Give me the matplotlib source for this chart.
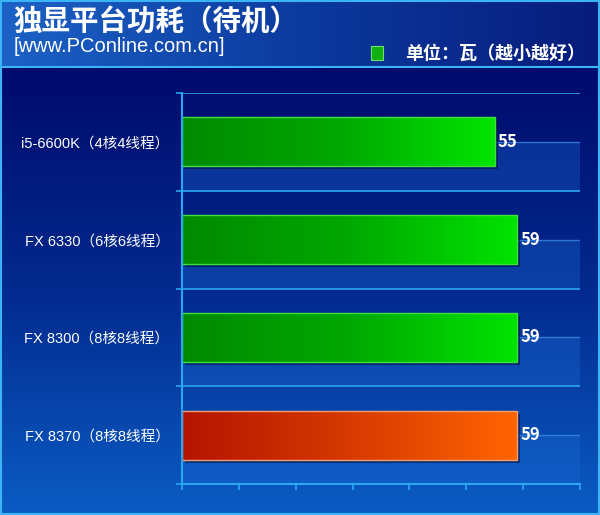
import numpy as np
import matplotlib
matplotlib.use("Agg")
import matplotlib.pyplot as plt
from matplotlib.colors import LinearSegmentedColormap
import matplotlib.transforms as mtransforms

plt.rcParams['font.family'] = ['Noto Sans CJK SC', 'DejaVu Sans']
latin_cjk = ['Liberation Sans', 'Noto Sans CJK SC']

# 数据
cpus = ["i5-6600K（4核4线程）", "FX 6330（6核6线程）", "FX 8300（8核8线程）", "FX 8370（8核8线程）"]
watts = [55, 59, 59, 59]
highlight = [False, False, False, True]
title = "独显平台功耗（待机）"
site = "[www.PConline.com.cn]"
unit_label = "单位：瓦（越小越好）"
x_max = 70
x_step = 10

W, H = 600, 515
fig = plt.figure(figsize=(W / 100, H / 100), dpi=100)

# 背景（像素坐标）
bg = fig.add_axes([0, 0, 1, 1])
bg.set_xlim(0, W)
bg.set_ylim(H, 0)
bg.axis('off')

body_cmap = LinearSegmentedColormap.from_list("body", ["#000a6c", "#032a8e", "#0a5cc4"])
bg.imshow(np.linspace(0, 1, 256).reshape(-1, 1), cmap=body_cmap, aspect='auto',
          extent=[0, W, H, 67], zorder=0)
head_cmap = LinearSegmentedColormap.from_list("head", ["#1c62c6", "#0c3a9e", "#071c7c"])
bg.imshow(np.linspace(0, 1, 256).reshape(1, -1), cmap=head_cmap, aspect='auto',
          extent=[0, W, 67, 0], zorder=0)
bg.plot([0, W], [67, 67], color="#3ab4f4", lw=1.5, zorder=1)
bg.add_patch(plt.Rectangle((0.75, 0.75), W - 1.5, H - 1.5, fill=False, ec="#3ab4f4", lw=1.5, zorder=2))

bg.text(13, 23, title, color="white", fontsize=20.5, fontweight='heavy', va='center', ha='left')
bg.text(14, 47, site, color="white", fontsize=14.5, va='center', ha='left', family=latin_cjk)
bg.add_patch(plt.Rectangle((371, 46), 12, 14, fc="#10b010", ec="#70e070", lw=0.8))
bg.text(585, 53, unit_label, color="white", fontsize=13, fontweight='bold', va='center', ha='right')

# 主图
ax = fig.add_axes([182 / W, (H - 484) / H, (580 - 182) / W, (484 - 93) / H])
ax.patch.set_alpha(0)
n = len(cpus)
y = np.arange(n)
ax.set_xlim(0, x_max)
ax.set_ylim(n - 0.5, -0.5)

line_c = "#2aa6f2"
for i in y:
    ax.axhspan(i, i + 0.5, color="#1a6ad4", alpha=0.35, lw=0, zorder=0)
    ax.axhline(i, color="#3a86e0", lw=1, alpha=0.8, zorder=0.5)
for b in np.arange(-0.5, n, 1.0):
    ax.axhline(b, color=line_c, lw=1.2, zorder=0.6)

# 阴影
shadow_tr = mtransforms.offset_copy(ax.transData, fig=fig, x=3, y=-3, units='dots')
ax.barh(y, watts, height=0.5, color="#031040", alpha=0.6, transform=shadow_tr, zorder=1)

bars = ax.barh(y, watts, height=0.5, color="none", zorder=2)
green = LinearSegmentedColormap.from_list("g", ["#008a00", "#00a800", "#00e400"])
red = LinearSegmentedColormap.from_list("r", ["#b41400", "#d63a00", "#ff6400"])
grad = np.linspace(0, 1, 256).reshape(1, -1)
for bar, v, yy, hl in zip(bars, watts, y, highlight):
    im = ax.imshow(grad, cmap=red if hl else green, aspect='auto',
                   extent=[0, v, yy + 0.25, yy - 0.25], zorder=2)
    im.set_clip_path(bar)
    edge = "#f0a070" if hl else "#3ee03e"
    ax.add_patch(plt.Rectangle((0, yy - 0.25), v, 0.5, fill=False, ec=edge, lw=1, zorder=3))
    ax.text(v + 0.5, yy, str(v), color="white", fontsize=12, fontweight='bold',
            va='center', ha='left', zorder=4)

ax.set_xlim(0, x_max)
ax.set_ylim(n - 0.5, -0.5)

for s in ['top', 'right']:
    ax.spines[s].set_visible(False)
for s in ['left', 'bottom']:
    ax.spines[s].set_color(line_c)
    ax.spines[s].set_linewidth(1.5)
    ax.spines[s].set_zorder(5)

ax.set_xticks(np.arange(0, x_max + 1, x_step))
ax.set_xticklabels([])
ax.set_yticks(np.arange(-0.5, n, 1.0))
ax.set_yticklabels([])
ax.tick_params(axis='both', which='major', color=line_c, length=4, width=1.2)
ax.set_yticks(y, minor=True)
ax.set_yticklabels(cpus, minor=True, family=latin_cjk)
ax.tick_params(axis='y', which='minor', length=0, pad=9, labelcolor='white', labelsize=10.5)

fig.savefig("out.png", dpi=100)
